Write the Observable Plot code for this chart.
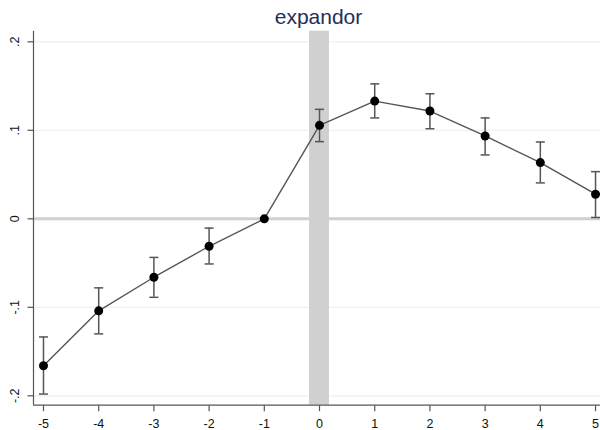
<!DOCTYPE html>
<html>
<head>
<meta charset="utf-8">
<script src="https://cdn.jsdelivr.net/npm/d3@7"></script>
<script src="https://cdn.jsdelivr.net/npm/@observablehq/plot@0.6"></script>
<style>
  html, body { margin: 0; padding: 0; background: #fff; }
  #chart svg { display: block; }
</style>
</head>
<body>
<div id="chart"></div>
<script>
const title = "expandor";
const periods = [-5, -4, -3, -2, -1, 0, 1, 2, 3, 4, 5];
const estimates = [-0.166, -0.104, -0.066, -0.031, 0, 0.1056, 0.133, 0.1218, 0.0936, 0.0635, 0.0278];
const ciLower = [-0.198, -0.130, -0.0887, -0.051, null, 0.0872, 0.114, 0.1018, 0.0722, 0.0406, 0.0015];
const ciUpper = [-0.1335, -0.078, -0.0436, -0.0105, null, 0.1237, 0.1525, 0.1413, 0.114, 0.0868, 0.0533];
const xTicks = [-5, -4, -3, -2, -1, 0, 1, 2, 3, 4, 5];
const yTicks = [-0.2, -0.1, 0, 0.1, 0.2];
const yTickLabels = ["-.2", "-.1", "0", ".1", ".2"];
const bandX = [-0.18, 0.18];

const data = periods.map((p, i) => ({x: p, y: estimates[i], lo: ciLower[i], hi: ciUpper[i]}));
const ciData = data.filter(d => d.lo != null);
const yLabelData = yTicks.map((v, i) => ({y: v, label: yTickLabels[i]}));

const capSymbol = {
  draw(context, size) {
    const r = Math.sqrt(size / Math.PI);
    context.moveTo(-r, 0);
    context.lineTo(r, 0);
  }
};
const vSymbol = {
  draw(context, size) {
    const r = Math.sqrt(size / Math.PI);
    context.moveTo(0, -r);
    context.lineTo(0, r);
  }
};

const font = "Liberation Sans, Arial, sans-serif";

const chart = Plot.plot({
  width: 600,
  height: 430,
  marginLeft: 33,
  marginRight: 0,
  marginTop: 30.7,
  marginBottom: 25.3,
  style: {fontFamily: font, background: "#fff"},
  x: {type: "linear", domain: [-5.181, 5.09], axis: null},
  y: {type: "linear", domain: [-0.2106, 0.212], axis: null},
  marks: [
    Plot.ruleY(yTicks.filter(d => d !== 0), {stroke: "#eaf2f3", strokeWidth: 1.2}),
    Plot.rect([{x1: bandX[0], x2: bandX[1]}], {x1: "x1", x2: "x2", fill: "#d0d0d0"}),
    Plot.ruleY([0], {stroke: "#d0d0d0", strokeWidth: 3}),
    // axes
    Plot.ruleX([-5.181], {stroke: "#555", strokeWidth: 1.2}),
    Plot.ruleY([-0.2106], {stroke: "#555", strokeWidth: 1.2}),
    Plot.dot(yTicks, {y: d => d, frameAnchor: "left", dx: -3, symbol: capSymbol, r: 3, stroke: "#555", strokeWidth: 1.2}),
    Plot.dot(xTicks, {x: d => d, frameAnchor: "bottom", dy: 3, symbol: vSymbol, r: 3, stroke: "#555", strokeWidth: 1.2}),
    Plot.text(xTicks, {x: d => d, text: d => String(d), frameAnchor: "bottom", dy: 18.5, lineAnchor: "middle", fontSize: 12.5, fill: "#111"}),
    Plot.text(yLabelData, {y: "y", text: "label", frameAnchor: "left", dx: -19, rotate: -90, lineAnchor: "middle", textAnchor: "middle", fontSize: 12.5, fill: "#111"}),
    // data
    Plot.line(data, {x: "x", y: "y", stroke: "#555", strokeWidth: 1.4}),
    Plot.ruleX(ciData, {x: "x", y1: "lo", y2: "hi", stroke: "#555", strokeWidth: 1.5}),
    Plot.dot(ciData, {x: "x", y: "lo", symbol: capSymbol, r: 4.5, stroke: "#555", strokeWidth: 1.5}),
    Plot.dot(ciData, {x: "x", y: "hi", symbol: capSymbol, r: 4.5, stroke: "#555", strokeWidth: 1.5}),
    Plot.dot(data, {x: "x", y: "y", r: 4.5, fill: "#000", stroke: "none"}),
    Plot.text([title], {frameAnchor: "top", dx: 1.5, dy: -7.7, lineAnchor: "bottom", fontSize: 21, fill: "#1e2f5b", text: d => d})
  ]
});
document.getElementById("chart").appendChild(chart);
</script>
</body>
</html>
